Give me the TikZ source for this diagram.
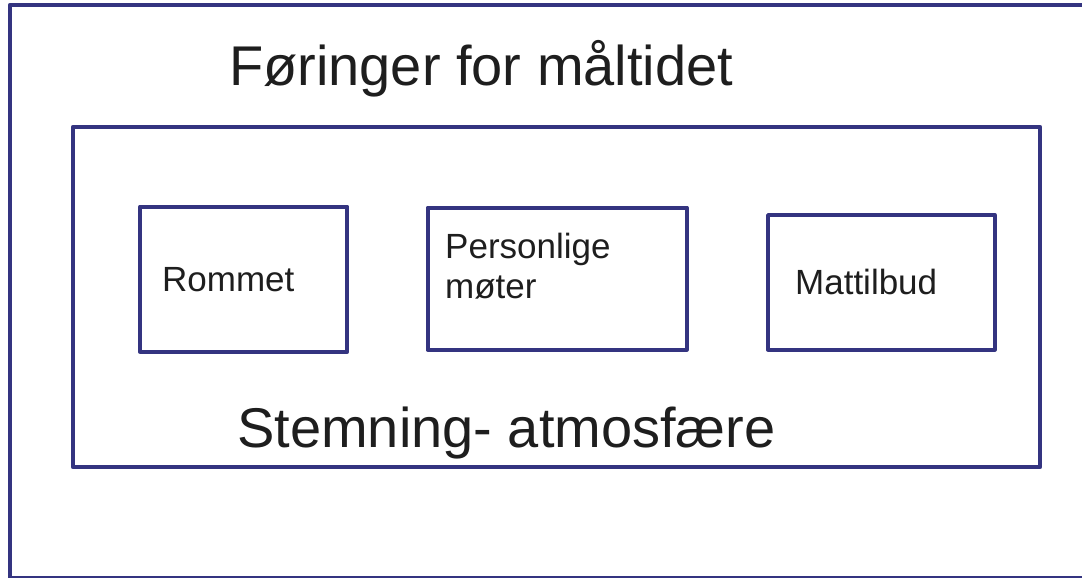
\documentclass[tikz,border=0pt]{standalone}
\usepackage{fontspec}
\setmainfont{Liberation Sans}
\usetikzlibrary{positioning}

\definecolor{rammeblaa}{RGB}{52,52,128}
\definecolor{tekstgraa}{RGB}{30,30,30}

\tikzset{
	ramme/.style={draw=rammeblaa, line width=4.3pt, line join=round},
	boks/.style={ramme, rectangle, anchor=north west, inner xsep=22pt, inner ysep=0pt,
		align=left, text=tekstgraa, font=\fontsize{35}{40}\selectfont},
	overskrift/.style={anchor=base west, inner sep=0pt, text=tekstgraa,
		font=\fontsize{56}{64}\selectfont}
}

\begin{document}
\begin{tikzpicture}[x=1pt,y=-1pt]
		\useasboundingbox (0,0) rectangle (1082,578);
		\clip (0,0) rectangle (1082,578);
		\draw [ramme] (10,5) rectangle (1100,578);
		\node[overskrift](tittel) at (229,85) {Føringer for måltidet};
		\draw [ramme] (73,127) rectangle (1040,467);
		\node[boks, minimum width=207pt, minimum height=145pt, text width=163pt](rommet) at (138,204.5) {Rommet};
		\node[boks, minimum width=259pt, minimum height=142pt, text width=219pt, inner xsep=20pt](moter) at (425.5,205.5) {};
		\node[anchor=base west, inner sep=0pt, align=left, text=tekstgraa, font=\fontsize{35}{40}\selectfont](motertekst) at (445,298) {Personlige\\møter};
		\node[boks, minimum width=226.5pt, minimum height=134.5pt, text width=172.5pt, inner xsep=27pt](mat) at (766,213) {Mattilbud};
		\node[overskrift](stemning) at (237,447) {Stemning- atmosfære};
	\end{tikzpicture}
\end{document}
